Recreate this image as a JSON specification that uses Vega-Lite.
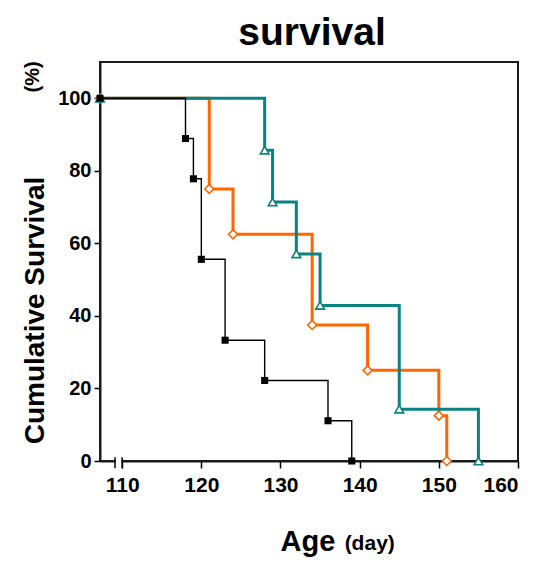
{
  "$schema": "https://vega.github.io/schema/vega-lite/v6.json",
  "width": 418,
  "height": 399,
  "autosize": {"type": "none"},
  "padding": {"left": 100, "top": 62, "right": 18, "bottom": 101},
  "background": "white",
  "config": {
    "view": {"stroke": "#1a1a1a", "strokeWidth": 2},
    "font": "Liberation Sans"
  },
  "title": {
    "text": "survival",
    "fontSize": 39,
    "fontWeight": "bold",
    "font": "Liberation Sans",
    "color": "black",
    "anchor": "middle",
    "frame": "group",
    "baseline": "alphabetic",
    "offset": -23,
    "dx": 3
  },
  "data": {
    "values": [
      {"group": "Group A", "day": 107.2, "surv": 100},
      {"group": "Group A", "day": 118, "surv": 88.9},
      {"group": "Group A", "day": 119, "surv": 77.8},
      {"group": "Group A", "day": 120, "surv": 55.6},
      {"group": "Group A", "day": 123, "surv": 33.3},
      {"group": "Group A", "day": 128, "surv": 22.2},
      {"group": "Group A", "day": 136, "surv": 11.1},
      {"group": "Group A", "day": 139, "surv": 0},
      {"group": "Group B", "day": 107.2, "surv": 100},
      {"group": "Group B", "day": 121, "surv": 75},
      {"group": "Group B", "day": 124, "surv": 62.5},
      {"group": "Group B", "day": 134, "surv": 37.5},
      {"group": "Group B", "day": 141, "surv": 25},
      {"group": "Group B", "day": 150, "surv": 12.5},
      {"group": "Group B", "day": 151, "surv": 0},
      {"group": "Group C", "day": 107.2, "surv": 100},
      {"group": "Group C", "day": 128, "surv": 85.7},
      {"group": "Group C", "day": 129, "surv": 71.4},
      {"group": "Group C", "day": 132, "surv": 57.1},
      {"group": "Group C", "day": 135, "surv": 42.9},
      {"group": "Group C", "day": 145, "surv": 14.3},
      {"group": "Group C", "day": 155, "surv": 0}
    ]
  },
  "encoding": {
    "x": {
      "field": "day",
      "type": "quantitative",
      "scale": {"domain": [107.2, 160], "nice": false, "zero": false},
      "axis": {
        "title": "Age",
        "titleFont": "Liberation Sans",
        "titleFontSize": 29,
        "titleFontWeight": "bold",
        "titleColor": "black",
        "titleAlign": "left",
        "titleBaseline": "alphabetic",
        "titleX": 180,
        "titleY": 89,
        "values": [110, 120, 130, 140, 150, 160],
        "labelFont": "Liberation Sans",
        "labelFontSize": 21,
        "labelFontWeight": "bold",
        "labelColor": "black",
        "labelPadding": 6,
        "tickSize": 7,
        "tickColor": "black",
        "tickWidth": 1.5,
        "domainColor": "#1a1a1a",
        "domainWidth": 2,
        "grid": false
      }
    },
    "y": {
      "field": "surv",
      "type": "quantitative",
      "scale": {"domain": [0, 110], "nice": false},
      "axis": {
        "title": "Cumulative Survival",
        "titleFont": "Liberation Sans",
        "titleFontSize": 28,
        "titleFontWeight": "bold",
        "titleColor": "black",
        "titleAngle": 270,
        "titleAlign": "center",
        "titleBaseline": "alphabetic",
        "titleX": -57,
        "titleY": 248,
        "values": [0, 20, 40, 60, 80, 100],
        "labelFont": "Liberation Sans",
        "labelFontSize": 20,
        "labelFontWeight": "bold",
        "labelColor": "black",
        "labelPadding": 3,
        "tickSize": 6,
        "tickColor": "black",
        "tickWidth": 1.5,
        "domainColor": "#1a1a1a",
        "domainWidth": 2,
        "grid": false
      }
    }
  },
  "layer": [
    {
      "transform": [{"filter": "datum.group === 'Group B'"}],
      "mark": {"type": "line", "interpolate": "step-after", "color": "#FF6600", "strokeWidth": 3}
    },
    {
      "transform": [{"filter": "datum.group === 'Group B'"}],
      "mark": {"type": "point", "shape": "diamond", "size": 80, "filled": true, "fill": "white", "stroke": "#FF6600", "strokeWidth": 1.6, "opacity": 1}
    },
    {
      "transform": [{"filter": "datum.group === 'Group C'"}],
      "mark": {"type": "line", "interpolate": "step-after", "color": "#0A8282", "strokeWidth": 3}
    },
    {
      "transform": [{"filter": "datum.group === 'Group C'"}],
      "mark": {"type": "point", "shape": "triangle-up", "size": 75, "filled": true, "fill": "white", "stroke": "#0A8282", "strokeWidth": 1.6, "opacity": 1}
    },
    {
      "transform": [{"filter": "datum.group === 'Group A'"}],
      "mark": {"type": "line", "interpolate": "step-after", "color": "black", "strokeWidth": 1.4}
    },
    {
      "transform": [{"filter": "datum.group === 'Group A'"}],
      "mark": {"type": "point", "shape": "square", "size": 50, "filled": true, "color": "black", "opacity": 1}
    },
    {
      "transform": [{"filter": "datum.group === 'Group A' && datum.day === 139"}],
      "mark": {"type": "rect", "color": "white", "clip": false},
      "encoding": {
        "x": {"datum": 109.2},
        "x2": {"datum": 109.9},
        "y": {"datum": 0.6},
        "y2": {"datum": -0.6}
      }
    },
    {
      "transform": [{"filter": "datum.group === 'Group A' && datum.day === 139"}],
      "mark": {"type": "rule", "color": "black", "strokeWidth": 1.5, "clip": false},
      "encoding": {
        "x": {"datum": 109.1},
        "y": {"datum": 1},
        "y2": {"datum": -2}
      }
    },
    {
      "transform": [{"filter": "datum.group === 'Group A' && datum.day === 139"}],
      "mark": {"type": "rule", "color": "black", "strokeWidth": 1.5, "clip": false},
      "encoding": {
        "x": {"datum": 110.0},
        "y": {"datum": 1},
        "y2": {"datum": -2}
      }
    },
    {
      "transform": [{"filter": "datum.group === 'Group A' && datum.day === 139"}],
      "mark": {"type": "text", "text": "(day)", "font": "Liberation Sans", "fontSize": 21, "fontWeight": "bold", "color": "black", "align": "left", "baseline": "alphabetic", "clip": false},
      "encoding": {
        "x": {"datum": 138.1},
        "y": {"datum": -24.5}
      }
    },
    {
      "transform": [{"filter": "datum.group === 'Group A' && datum.day === 139"}],
      "mark": {"type": "text", "text": "(%)", "font": "Liberation Sans", "fontSize": 20, "fontWeight": "bold", "color": "black", "angle": 270, "align": "center", "baseline": "middle", "clip": false},
      "encoding": {
        "x": {"datum": 98.74},
        "y": {"datum": 105.9}
      }
    }
  ]
}
